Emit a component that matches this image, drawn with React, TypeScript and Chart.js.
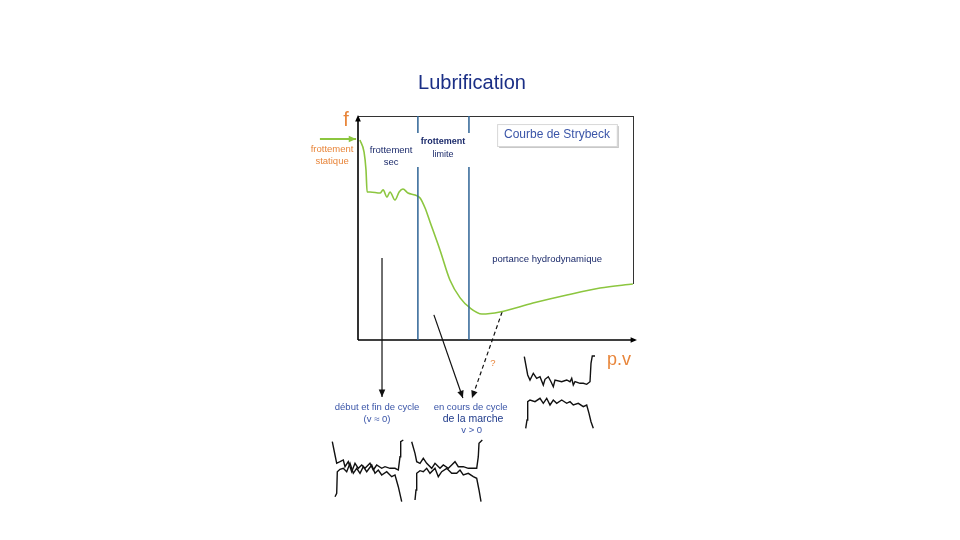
import React, { useEffect, useRef } from 'react';
import { Chart, registerables } from 'chart.js';

Chart.register(...registerables);

// ---- Stribeck curve (normalised p·v on x, friction f on y, 0..100) ----
const curvePv = [0.7, 2.2, 2.9, 3.3, 4.4, 8.0, 9.1, 10.5, 11.6, 13.4, 14.9, 16.3, 18.1, 20.7, 22.5, 24.3, 26.1, 29.7, 33.3, 37.0, 40.6, 44.9, 51.4, 63.4, 75.7, 87.7, 99.6];
const curveF = [89.3, 83.9, 75.9, 66.1, 66.1, 65.6, 67.0, 63.8, 66.1, 62.5, 66.1, 67.4, 65.6, 64.7, 63.4, 58.9, 52.7, 40.2, 26.8, 18.8, 14.3, 11.6, 12.5, 16.5, 20.1, 23.2, 25.0];

// regime boundaries (p·v) : frottement sec | frottement limite | portance hydrodynamique
const regimeBounds = [21.7, 40.2];
const boundTopSegment = [100, 92.4];
const boundLowSegment = [77.2, 0];

// arrows (p·v, f) from the curve to the friction recordings
const arrowStartPv = [8.7, 36.6];
const arrowStartEnd = [8.7, -25.4];
const arrowMidFrom = [27.5, 11.2];
const arrowMidTo = [38.0, -25.9];
const arrowDashFrom = [52.2, 12.5];
const arrowDashTo = [41.3, -25.9];
const staticArrowPv = [-13.8, -0.7];
const staticArrowF = 89.7;

// ---- friction recordings (time, force) ----
const recStartUpperT = [2.3, 5, 6.7, 10, 13.3, 15, 18.3, 21.7, 25, 28.3, 31.7, 35, 40, 43.3, 46.7, 51.7, 55, 60, 65, 68.3, 70, 70.7, 73.3];
const recStartUpperF = [63.3, 50, 41.7, 43.3, 45, 38.3, 43.3, 33.3, 41.7, 36.7, 40, 36.7, 41.7, 35, 40, 36.7, 38.3, 36.7, 36.7, 35, 48.3, 63.3, 65];
const recStartLowerT = [5, 6.7, 7.3, 10, 13.3, 16.7, 20, 23.3, 26.7, 30, 33.3, 36.7, 41.7, 45, 48.3, 51.7, 56.7, 61.7, 65, 68.3, 71.7];
const recStartLowerF = [8.3, 11.7, 33.3, 35.7, 36.7, 33.3, 41.7, 31.7, 36.7, 31.7, 38.3, 33.3, 40, 31.7, 35, 30, 33.3, 28.3, 30, 18.3, 3.3];

const recCycleUpperT = [1.7, 5, 6.7, 10, 13.3, 16.7, 21.7, 25, 30, 33.3, 38.3, 41.7, 45, 48.3, 53.3, 58.3, 63.3, 66.7, 68.3, 69, 72.3];
const recCycleUpperF = [63.3, 51.7, 43.3, 41.7, 46.7, 41.7, 36.7, 41.7, 36.7, 40, 36.7, 40, 43.3, 38.3, 38.3, 36.7, 36.7, 36.7, 48.3, 61.7, 65];
const recCycleLowerT = [5, 6, 6.7, 10, 13.3, 16.7, 20, 25, 28.3, 31.7, 36.7, 41.7, 46.7, 50, 53.3, 58.3, 63.3, 66.7, 69, 71];
const recCycleLowerF = [5, 15, 31.7, 34.3, 33.3, 36.7, 31.7, 36.7, 28.3, 33.3, 36.7, 31.7, 31.7, 35, 30, 31.7, 28.3, 26.7, 15, 3.3];

const recHydroUpperT = [4.3, 7.7, 10, 13.3, 16.7, 20, 23.3, 25, 28.3, 31, 33.3, 35, 41.7, 46.7, 50, 51.7, 53.3, 55, 60, 63.3, 66.7, 70, 71, 72.3, 75];
const recHydroUpperF = [75.3, 57, 52, 58.7, 53.7, 55.3, 47, 52.7, 55.3, 50.3, 45.3, 52, 50.3, 52, 50.3, 53.7, 47, 50.3, 48.7, 48.7, 47.7, 50.3, 68.7, 76, 76];
const recHydroLowerT = [5.7, 7, 7.7, 10, 15, 20, 23.3, 26.7, 30, 33.3, 36.7, 41.7, 46.7, 50, 53.3, 58.3, 63.3, 66.7, 69, 71, 73.3];
const recHydroLowerF = [3.7, 12, 30.3, 32, 30.3, 33.7, 28.7, 33.7, 27, 32, 28.7, 32, 28.7, 30.3, 27, 28.7, 25.3, 27, 18.7, 10.3, 3.7];

const GREEN = '#8cc63f';
const STEEL = '#2f6496';
const ORANGE = '#e8853a';
const BLUE = '#3a55a8';
const NAVY = '#1c2b6b';
const FONT = '"Liberation Sans", Arial, sans-serif';

const zip = (xs: number[], ys: number[]) => xs.map((x, i) => ({ x, y: ys[i] }));

type Label = { t: string; x: number; y: number; c: string; f: string; align?: CanvasTextAlign };
const labels: Label[] = [
  { t: 'Lubrification', x: 41.3, y: 114.3, c: '#1b2f86', f: `20px ${FONT}` },
  { t: 'f', x: -4.3, y: 98.2, c: ORANGE, f: `20px ${FONT}` },
  { t: 'frottement', x: -9.4, y: 85.3, c: ORANGE, f: `9.5px ${FONT}` },
  { t: 'statique', x: -9.4, y: 79.9, c: ORANGE, f: `9.5px ${FONT}` },
  { t: 'frottement', x: 12.0, y: 84.8, c: NAVY, f: `9.5px ${FONT}` },
  { t: 'sec', x: 12.0, y: 79.5, c: NAVY, f: `9.5px ${FONT}` },
  { t: 'frottement', x: 30.8, y: 88.4, c: NAVY, f: `bold 9px ${FONT}` },
  { t: 'limite', x: 30.8, y: 83.0, c: NAVY, f: `9px ${FONT}` },
  { t: 'Courbe de Strybeck', x: 72.1, y: 91.5, c: BLUE, f: `12px ${FONT}` },
  { t: 'portance hydrodynamique', x: 48.6, y: 36.2, c: NAVY, f: `9.5px ${FONT}`, align: 'left' },
  { t: '?', x: 48.9, y: -10.3, c: ORANGE, f: `9.5px ${FONT}` },
  { t: 'p.v', x: 94.6, y: -8.9, c: ORANGE, f: `18px ${FONT}` },
  { t: 'début et fin de cycle', x: 6.9, y: -29.9, c: BLUE, f: `9.5px ${FONT}` },
  { t: '(v ≈ 0)', x: 6.9, y: -35.3, c: BLUE, f: `9.5px ${FONT}` },
  { t: 'en cours de cycle', x: 40.8, y: -29.9, c: BLUE, f: `9.5px ${FONT}` },
  { t: 'de la marche', x: 41.7, y: -35.3, c: '#1e3a8a', f: `10.5px ${FONT}` },
  { t: 'v > 0', x: 41.2, y: -40.2, c: BLUE, f: `9.5px ${FONT}` },
];

function arrowHead(ctx: CanvasRenderingContext2D, x1: number, y1: number, x2: number, y2: number, color: string, size: number) {
  const ang = Math.atan2(y2 - y1, x2 - x1);
  ctx.save();
  ctx.fillStyle = color;
  ctx.beginPath();
  ctx.moveTo(x2, y2);
  ctx.lineTo(x2 - size * Math.cos(ang - 0.42), y2 - size * Math.sin(ang - 0.42));
  ctx.lineTo(x2 - size * Math.cos(ang + 0.42), y2 - size * Math.sin(ang + 0.42));
  ctx.closePath();
  ctx.fill();
  ctx.restore();
}

const overlay = {
  id: 'overlay',
  beforeDatasetsDraw(chart: any) {
    const { ctx, chartArea: a, scales } = chart;
    const x = scales.x, y = scales.y;
    ctx.save();
    // frame
    ctx.strokeStyle = '#333';
    ctx.lineWidth = 1;
    ctx.beginPath();
    ctx.moveTo(a.left, a.top + 0.5);
    ctx.lineTo(a.right, a.top + 0.5);
    ctx.moveTo(a.right - 0.5, a.top);
    ctx.lineTo(a.right - 0.5, y.getPixelForValue(curveF[curveF.length - 1]));
    ctx.stroke();
    // axes
    ctx.strokeStyle = '#000';
    ctx.lineWidth = 1.6;
    ctx.beginPath();
    ctx.moveTo(a.left, a.bottom);
    ctx.lineTo(a.left, a.top + 2);
    ctx.moveTo(a.left, a.bottom);
    ctx.lineTo(a.right + 1, a.bottom);
    ctx.stroke();
    arrowHead(ctx, a.left, a.bottom, a.left, a.top - 1, '#000', 7);
    arrowHead(ctx, a.left, a.bottom, a.right + 3, a.bottom, '#000', 7);
    // legend box "Courbe de Strybeck"
    const bx1 = x.getPixelForValue(50.4), bx2 = x.getPixelForValue(93.8);
    const by1 = y.getPixelForValue(96.4), by2 = y.getPixelForValue(86.6);
    ctx.fillStyle = '#c8c8c8';
    ctx.fillRect(bx1 + 2, by1 + 2, bx2 - bx1, by2 - by1);
    ctx.fillStyle = '#ffffff';
    ctx.fillRect(bx1, by1, bx2 - bx1, by2 - by1);
    ctx.strokeStyle = '#d8d8d8';
    ctx.lineWidth = 1;
    ctx.strokeRect(bx1 + 0.5, by1 + 0.5, bx2 - bx1, by2 - by1);
    ctx.restore();
  },
  afterDatasetsDraw(chart: any) {
    const { ctx, scales } = chart;
    chart.data.datasets.forEach((ds: any, i: number) => {
      if (!ds.arrowHead) return;
      const pts = chart.getDatasetMeta(i).data;
      const p1 = pts[pts.length - 2], p2 = pts[pts.length - 1];
      arrowHead(ctx, p1.x, p1.y, p2.x, p2.y, ds.borderColor, 8);
    });
    ctx.save();
    ctx.textBaseline = 'middle';
    labels.forEach((l) => {
      ctx.font = l.f;
      ctx.fillStyle = l.c;
      ctx.textAlign = l.align || 'center';
      ctx.fillText(l.t, scales.x.getPixelForValue(l.x), scales.y.getPixelForValue(l.y));
    });
    ctx.restore();
  },
};

function MainChart() {
  const ref = useRef<HTMLCanvasElement>(null);
  useEffect(() => {
    const boundSets = regimeBounds.map((b) => ({
      data: [
        { x: b, y: boundTopSegment[0] },
        { x: b, y: boundTopSegment[1] },
        { x: b, y: null },
        { x: b, y: boundLowSegment[0] },
        { x: b, y: boundLowSegment[1] },
      ],
      showLine: true, borderColor: STEEL, borderWidth: 1.5, pointRadius: 0, spanGaps: false,
    }));
    const chart = new Chart(ref.current as HTMLCanvasElement, {
      type: 'scatter',
      data: {
        datasets: [
          ...boundSets,
          {
            data: zip(curvePv, curveF),
            showLine: true, borderColor: GREEN, borderWidth: 1.6, pointRadius: 0,
            cubicInterpolationMode: 'monotone',
          },
          {
            data: [{ x: staticArrowPv[0], y: staticArrowF }, { x: staticArrowPv[1], y: staticArrowF }],
            showLine: true, borderColor: GREEN, borderWidth: 2, pointRadius: 0, clip: false, arrowHead: true,
          },
          {
            data: [{ x: arrowStartPv[0], y: arrowStartPv[1] }, { x: arrowStartEnd[0], y: arrowStartEnd[1] }],
            showLine: true, borderColor: '#111', borderWidth: 1.2, pointRadius: 0, clip: false, arrowHead: true,
          },
          {
            data: [{ x: arrowMidFrom[0], y: arrowMidFrom[1] }, { x: arrowMidTo[0], y: arrowMidTo[1] }],
            showLine: true, borderColor: '#111', borderWidth: 1.2, pointRadius: 0, clip: false, arrowHead: true,
          },
          {
            data: [{ x: arrowDashFrom[0], y: arrowDashFrom[1] }, { x: arrowDashTo[0], y: arrowDashTo[1] }],
            showLine: true, borderColor: '#111', borderWidth: 1.2, borderDash: [4, 3], pointRadius: 0, clip: false, arrowHead: true,
          },
        ] as any,
      },
      options: {
        animation: false,
        responsive: false,
        events: [],
        layout: { autoPadding: false, padding: { left: 358, right: 326, top: 116, bottom: 200 } },
        plugins: { legend: { display: false }, tooltip: { enabled: false }, title: { display: false } },
        scales: {
          x: { type: 'linear', display: false, min: 0, max: 100 },
          y: { type: 'linear', display: false, min: 0, max: 100 },
        },
      },
      plugins: [overlay],
    } as any);
    return () => chart.destroy();
  }, []);
  return <canvas ref={ref} width={960} height={540} style={{ position: 'absolute', left: 0, top: 0 }} />;
}

function Recording(props: { left: number; top: number; w: number; h: number; traces: { x: number; y: number }[][] }) {
  const ref = useRef<HTMLCanvasElement>(null);
  useEffect(() => {
    const chart = new Chart(ref.current as HTMLCanvasElement, {
      type: 'scatter',
      data: {
        datasets: props.traces.map((t) => ({
          data: t, showLine: true, borderColor: '#111', borderWidth: 1.4, pointRadius: 0, tension: 0,
        })),
      },
      options: {
        animation: false,
        responsive: false,
        events: [],
        layout: { autoPadding: false, padding: 0 },
        plugins: { legend: { display: false }, tooltip: { enabled: false } },
        scales: {
          x: { type: 'linear', display: false, min: 0, max: props.w },
          y: { type: 'linear', display: false, min: 0, max: props.h },
        },
      },
    } as any);
    return () => chart.destroy();
  }, []);
  return (
    <canvas ref={ref} width={props.w} height={props.h}
      style={{ position: 'absolute', left: props.left, top: props.top }} />
  );
}

export default function App() {
  return (
    <div style={{ position: 'absolute', left: 0, top: 0, width: 960, height: 540, background: '#fff', overflow: 'hidden' }}>
      <MainChart />
      <Recording left={330} top={437} w={76} h={68}
        traces={[zip(recStartUpperT, recStartUpperF), zip(recStartLowerT, recStartLowerF)]} />
      <Recording left={410} top={437} w={76} h={68}
        traces={[zip(recCycleUpperT, recCycleUpperF), zip(recCycleLowerT, recCycleLowerF)]} />
      <Recording left={520} top={352} w={80} h={80}
        traces={[zip(recHydroUpperT, recHydroUpperF), zip(recHydroLowerT, recHydroLowerF)]} />
    </div>
  );
}
